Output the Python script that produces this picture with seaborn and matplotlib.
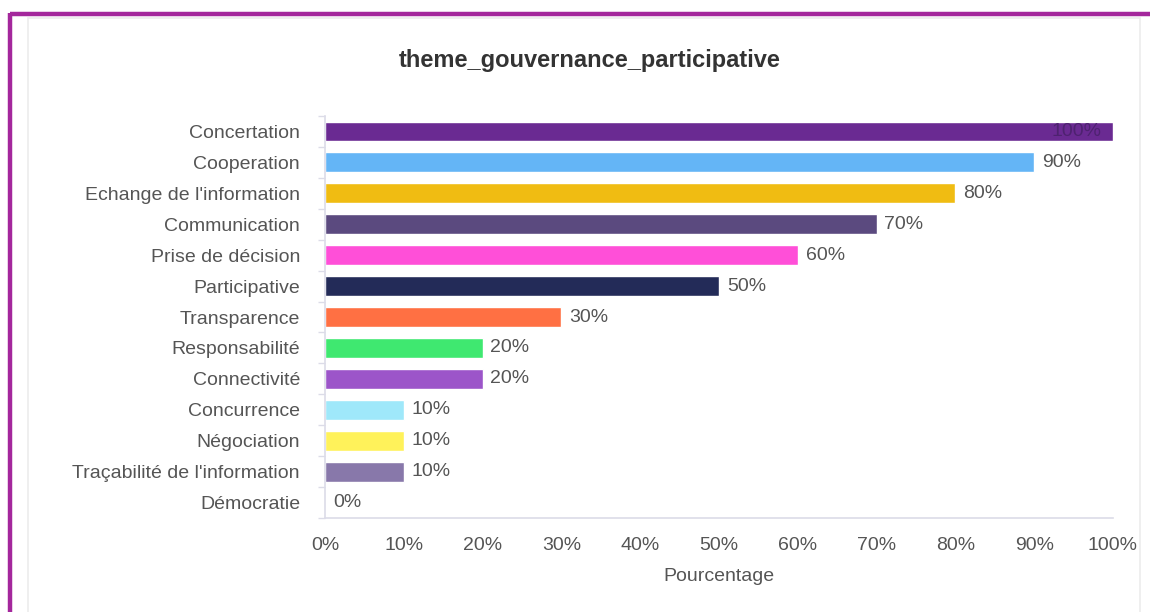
import matplotlib
matplotlib.use("Agg")
import matplotlib.pyplot as plt
from matplotlib.lines import Line2D
from matplotlib.patches import Rectangle
from matplotlib.ticker import FixedLocator, PercentFormatter
import seaborn as sns
import pandas as pd

categories = [
    "Concertation", "Cooperation", "Echange de l'information", "Communication",
    "Prise de décision", "Participative", "Transparence", "Responsabilité",
    "Connectivité", "Concurrence", "Négociation", "Traçabilité de l'information",
    "Démocratie",
]
values = [100, 90, 80, 70, 60, 50, 30, 20, 20, 10, 10, 10, 0]
colors = [
    "#6a2a92", "#64b5f6", "#f0bc12", "#5b4a7f", "#ff4fd8", "#232b58",
    "#ff7043", "#3fe870", "#9c55c9", "#9fe8fa", "#fff25a", "#8878aa",
    "#cccccc",
]
tick_values = [0, 10, 20, 30, 40, 50, 60, 70, 80, 90, 100]

title = "theme_gouvernance_participative"
x_label = "Pourcentage"

sns.set_theme(style="white")
plt.rcParams["font.family"] = ["Liberation Sans", "DejaVu Sans"]

df = pd.DataFrame({"cat": categories, "val": values})

fig = plt.figure(figsize=(11.5, 6.12), dpi=100)
fig.patch.set_facecolor("white")

# card outline and accent frame
fig.patches.append(Rectangle((28 / 1150, -0.01), (1140 - 28) / 1150, 1 - 18 / 612 + 0.01,
                             transform=fig.transFigure, fill=False,
                             edgecolor="#ececec", linewidth=1.2, zorder=0))
fig.lines.append(Line2D([10 / 1150, 10 / 1150], [0, 1 - 13 / 612], transform=fig.transFigure,
                        color="#a4279c", linewidth=3.2, solid_capstyle="butt"))
fig.lines.append(Line2D([10 / 1150, 1], [1 - 14 / 612, 1 - 14 / 612], transform=fig.transFigure,
                        color="#a4279c", linewidth=3.2, solid_capstyle="butt"))

ax = fig.add_axes([325 / 1150, 1 - 518 / 612, (1113 - 325) / 1150, (518 - 116) / 612])

sns.barplot(data=df, x="val", y="cat", hue="cat", palette=colors, legend=False,
            orient="h", width=0.64, ax=ax, saturation=1)

ax.set_xlim(0, 100)
ax.set_ylim(len(categories) - 0.5, -0.5)

ax.xaxis.set_major_locator(FixedLocator(tick_values))
ax.xaxis.set_major_formatter(PercentFormatter(decimals=0))

spine_col = "#dcdce8"
for side in ["top", "right"]:
    ax.spines[side].set_visible(False)
for side in ["left", "bottom"]:
    ax.spines[side].set_color(spine_col)
    ax.spines[side].set_linewidth(1.2)

ax.tick_params(axis="x", colors=spine_col, length=5, width=1, pad=9,
               labelcolor="#555555", labelsize=14)
ax.tick_params(axis="y", which="major", length=0, pad=18,
               labelcolor="#555555", labelsize=14)
ax.set_yticks([i + 0.5 for i in range(-1, len(categories))], minor=True)
ax.tick_params(axis="y", which="minor", length=5, width=1, colors=spine_col, left=True)

ax.set_xlabel(x_label, fontsize=14, color="#555555", labelpad=10)
ax.set_ylabel("")

for i, v in enumerate(values):
    label = f"{v}%"
    if v >= 95:
        ax.text(v - 1.5, i, label, va="center", ha="right", fontsize=14, color="#4e2270")
    else:
        ax.text(v + 1.0, i, label, va="center", ha="left", fontsize=14, color="#555555")

fig.text(590 / 1150, 1 - 60 / 612, title, ha="center", va="center",
         fontsize=17, fontweight="bold", color="#333333")

fig.savefig("out.png", dpi=100, facecolor="white")
